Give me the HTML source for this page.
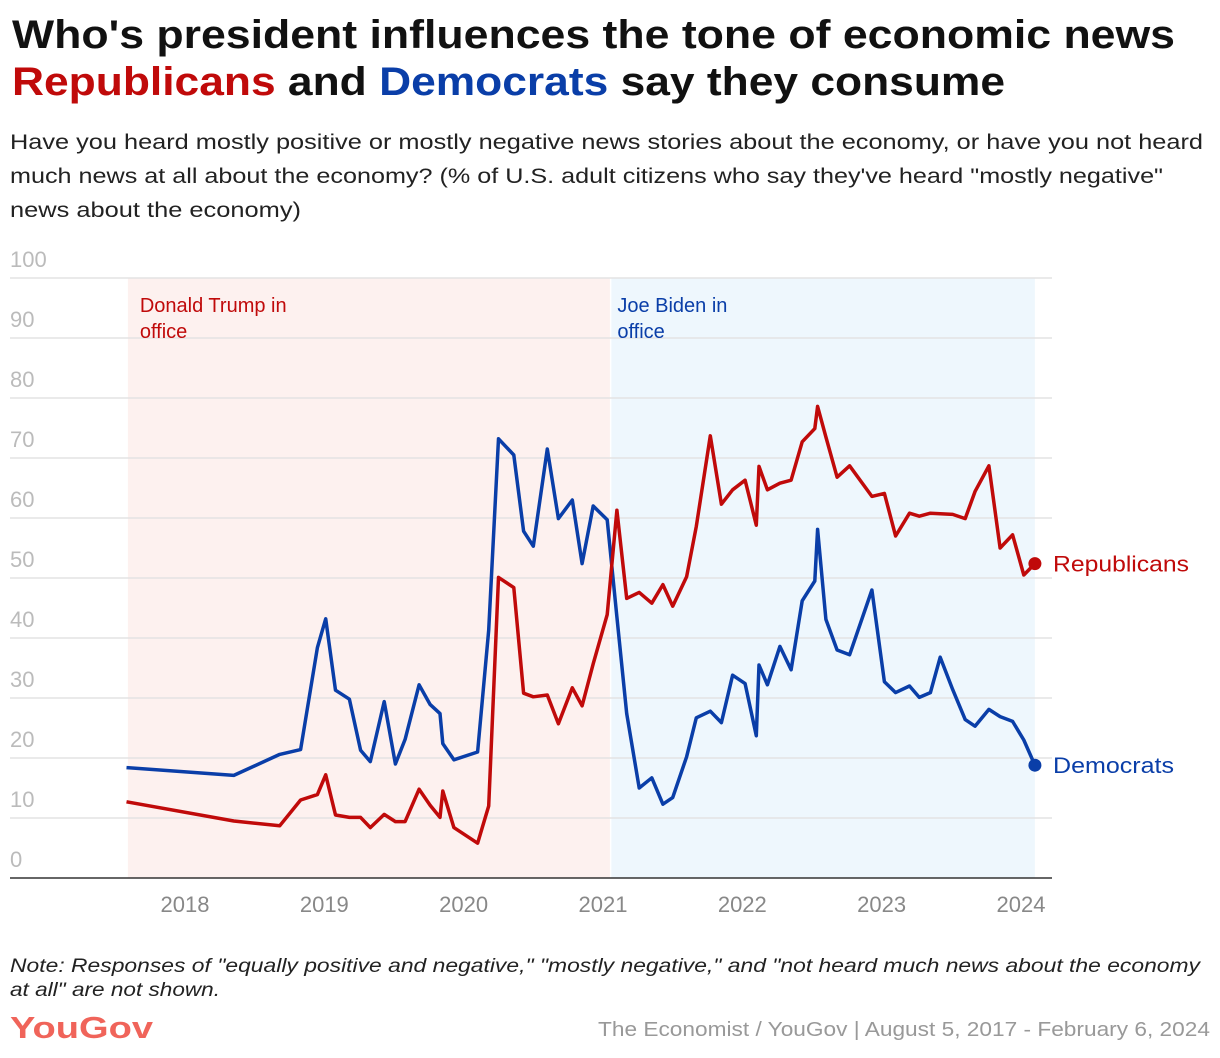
<!DOCTYPE html>
<html><head><meta charset="utf-8"><style>
html,body{margin:0;padding:0;background:#fff;}
svg{display:block;font-family:"Liberation Sans",sans-serif;}
</style></head><body>
<svg id="chart" width="1220" height="1058" viewBox="0 0 1220 1058" xmlns="http://www.w3.org/2000/svg">
<text x="12" y="48" font-size="40" font-weight="bold" fill="#111" textLength="1163" lengthAdjust="spacingAndGlyphs">Who's president influences the tone of economic news</text>
<text x="12" y="95" font-size="40" font-weight="bold" fill="#111" textLength="993" lengthAdjust="spacingAndGlyphs"><tspan fill="#c00a0a">Republicans</tspan> and <tspan fill="#0a3ea8">Democrats</tspan> say they consume</text>
<text x="10" y="149" font-size="21" fill="#222" textLength="1193" lengthAdjust="spacingAndGlyphs">Have you heard mostly positive or mostly negative news stories about the economy, or have you not heard</text>
<text x="10" y="183" font-size="21" fill="#222" textLength="1153" lengthAdjust="spacingAndGlyphs">much news at all about the economy? (% of U.S. adult citizens who say they've heard "mostly negative"</text>
<text x="10" y="217" font-size="21" fill="#222" textLength="291" lengthAdjust="spacingAndGlyphs">news about the economy)</text>
<g id="plot"></g>
<text x="10" y="972" font-size="19" font-style="italic" fill="#222" textLength="1190" lengthAdjust="spacingAndGlyphs">Note: Responses of "equally positive and negative," "mostly negative," and "not heard much news about the economy</text>
<text x="10" y="996" font-size="19" font-style="italic" fill="#222" textLength="210" lengthAdjust="spacingAndGlyphs">at all" are not shown.</text>
<text x="10" y="1038" font-size="31" font-weight="bold" fill="#f0645a" textLength="143" lengthAdjust="spacingAndGlyphs">YouGov</text>
<text x="1210" y="1036" font-size="20" fill="#999" text-anchor="end" textLength="612" lengthAdjust="spacingAndGlyphs">The Economist / YouGov | August 5, 2017 - February 6, 2024</text>
</svg>
<script>
const dates = [2017.58,2018.35,2018.68,2018.83,2018.95,2019.01,2019.08,2019.18,2019.26,2019.33,2019.43,2019.51,2019.58,2019.68,2019.76,2019.83,2019.85,2019.93,2020.10,2020.18,2020.25,2020.36,2020.43,2020.50,2020.60,2020.68,2020.78,2020.85,2020.93,2021.03,2021.10,2021.17,2021.26,2021.35,2021.43,2021.50,2021.60,2021.67,2021.77,2021.85,2021.93,2022.02,2022.10,2022.12,2022.18,2022.27,2022.35,2022.43,2022.52,2022.54,2022.60,2022.68,2022.77,2022.93,2023.02,2023.10,2023.20,2023.27,2023.35,2023.42,2023.51,2023.60,2023.67,2023.77,2023.85,2023.94,2024.02,2024.10];
const republicans = [12.7,9.5,8.7,13,13.9,17.2,10.5,10.1,10.1,8.4,10.6,9.4,9.4,14.8,12.1,10.1,14.5,8.4,5.8,12,50.1,48.4,30.8,30.2,30.5,25.7,31.7,28.7,35.7,43.9,61.3,46.6,47.6,45.8,48.9,45.3,50.2,58.6,73.7,62.3,64.7,66.3,58.8,68.6,64.7,65.8,66.3,72.7,74.9,78.6,73.5,66.8,68.7,63.6,64.1,57,60.8,60.3,60.8,60.7,60.6,59.9,64.4,68.7,55,57.2,50.5,52.4];
const democrats = [18.4,17.1,20.6,21.4,38.4,43.2,31.3,29.8,21.3,19.4,29.4,19,23.1,32.2,28.9,27.4,22.4,19.7,21,41.3,73.2,70.5,57.8,55.3,71.5,59.9,63,52.4,62,59.7,43.5,27.4,15,16.7,12.3,13.4,20.2,26.7,27.8,25.9,33.8,32.4,23.7,35.5,32.2,38.6,34.7,46.2,49.5,58.1,43.1,38,37.2,48,32.7,30.9,32,30.1,30.9,36.8,31.4,26.4,25.3,28.1,26.9,26.1,23,18.8];
const yTicks = [0,10,20,30,40,50,60,70,80,90,100];
const xTicks = [2018,2019,2020,2021,2022,2023,2024];
const terms = [["Donald Trump in","office",2017.59,2021.05],["Joe Biden in","office",2021.06,2024.10]];

const NS="http://www.w3.org/2000/svg";
const g=document.getElementById('plot');
const X=t=>185+(t-2018)*139.33;
const Y=v=>878-v*6;
function el(tag,attrs,parent){const e=document.createElementNS(NS,tag);for(const k in attrs)e.setAttribute(k,attrs[k]);(parent||g).appendChild(e);return e;}

const termFill=["#fdf1ef","#eef7fd"], termText=["#c00a0a","#0a3ea8"];
terms.forEach((tm,i)=>{
  const r=el('rect',{x:X(tm[2]),y:Y(100),width:X(tm[3])-X(tm[2]),height:Y(0)-Y(100),fill:termFill[i]});
  
  
});
yTicks.forEach(v=>{
  if(v>0){const l=el('line',{x1:10,x2:1052,y1:Y(v),y2:Y(v),stroke:"#e3e3e3","stroke-width":1.5});
  
  }
  const t=el('text',{x:10,y:Y(v)-11,"font-size":22,fill:"#bbb"});t.textContent=v;
  
  
});
terms.forEach((tm,i)=>{
  const x=X(tm[2])+(i?6:12);
  [tm[0],tm[1]].forEach((s,j)=>{const t=el('text',{x:x,y:312+j*26,"font-size":20,fill:termText[i]});t.textContent=s;
  
  });
});
const ax=el('line',{x1:10,x2:1052,y1:Y(0),y2:Y(0),stroke:"#333","stroke-width":1.5});


xTicks.forEach(yr=>{
  const t=el('text',{x:X(yr),y:912,"font-size":22,fill:"#888","text-anchor":"middle"});t.textContent=yr;
  
  
});
function series(vals,color,name,label,w){
  const d=vals.map((v,i)=>(i?'L':'M')+X(dates[i]).toFixed(1)+' '+Y(v).toFixed(1)).join(' ');
  const p=el('path',{d:d,fill:"none",stroke:color,"stroke-width":3.5,"stroke-linejoin":"round"});
  
  
  const n=vals.length-1;
  const c=el('circle',{cx:X(dates[n]),cy:Y(vals[n]),r:6.5,fill:color});
  
  
  const t=el('text',{x:1053,y:Y(vals[n])+8,"font-size":22,fill:color,textLength:w,lengthAdjust:"spacingAndGlyphs"});t.textContent=label;
  
  
}
series(democrats,"#0a3ea8","democrats","Democrats",121);
series(republicans,"#c00a0a","republicans","Republicans",136);
</script>
</body></html>
